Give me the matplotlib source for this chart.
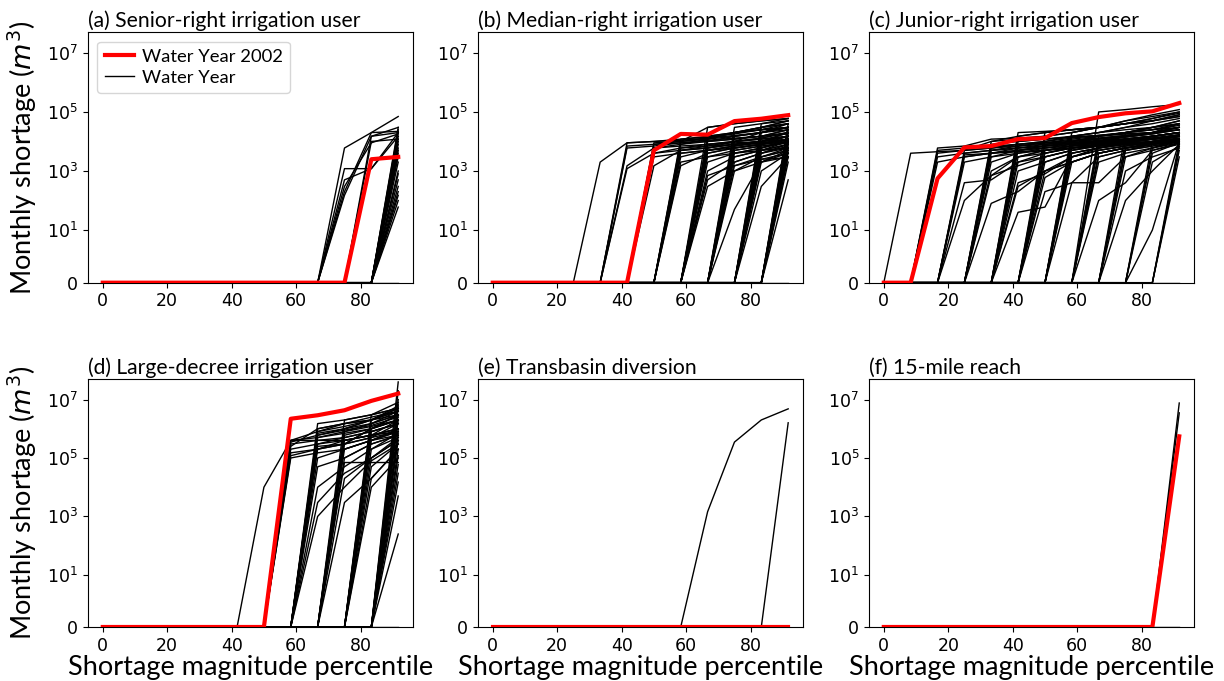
import matplotlib
matplotlib.use("Agg")
import matplotlib.pyplot as plt
from matplotlib.ticker import FixedLocator, NullLocator
from matplotlib.lines import Line2D

# x positions: shortage magnitude percentile of the 12 sorted monthly values
percentiles = [0, 8.33, 16.67, 25, 33.33, 41.67, 50, 58.33, 66.67, 75, 83.33, 91.67]

titles = ["(a) Senior-right irrigation user", "(b) Median-right irrigation user",
          "(c) Junior-right irrigation user", "(d) Large-decree irrigation user",
          "(e) Transbasin diversion", "(f) 15-mile reach"]

# Water Year 2002 (highlighted)
red_a = [0, 0, 0, 0, 0, 0, 0, 0, 0, 0, 2.5e3, 3e3]
red_b = [0, 0, 0, 0, 0, 0, 5e3, 1.8e4, 1.7e4, 4.9e4, 5.9e4, 7.8e4]
red_c = [0, 0, 5.6e2, 6.3e3, 7e3, 1.2e4, 1.3e4, 4.2e4, 6.7e4, 9e4, 1.05e5, 2e5]
red_d = [0, 0, 0, 0, 0, 0, 0, 2.2e6, 2.9e6, 4.3e6, 9e6, 1.6e7]
red_e = [0, 0, 0, 0, 0, 0, 0, 0, 0, 0, 0, 0]
red_f = [0, 0, 0, 0, 0, 0, 0, 0, 0, 0, 0, 5.5e5]

# Other water years: only the non-zero tail of each sorted year is listed
# (leading months are zero shortage)
years_a = [
    [6e3, 2e4, 7e4], [1.2e3, 1.2e3, 2e4], [3e2, 9e3, 1.8e4], [1.5e2, 1.5e4, 3e4],
    [5e2, 1.2e3, 1.5e4], [2e2, 2e4, 2.2e4], [1.5e4, 2e4], [1e4, 1.2e4],
    [3e4], [2.5e4], [2e4], [1.5e4], [1.2e4], [1e4], [8e3], [6e3], [5e3], [4e3],
    [3e3], [2e3], [1e3], [8e2], [5e2], [3e2], [2e2], [1.5e2], [1e2], [6e1], [],
]
years_b = [
    [2e3, 9e3, 1e4, 1.2e4, 1.5e4, 2e4, 2.5e4, 3e4],
    [9e3, 1e4, 1.1e4, 1.3e4, 1.6e4, 2e4, 2.5e4],
    [6e3, 7e3, 9e3, 1e4, 1.5e4, 2e4, 4e4],
    [1.2e3, 4e3, 6e3, 8e3, 1e4, 1.2e4, 1.5e4],
    [1.5e3, 6e3, 8e3, 1.2e4, 2e4, 3e4, 5e4],
    [7e3, 8e3, 9e3, 1.1e4, 1.3e4, 1.5e4, 1.8e4],
    [1.5e3, 5e3, 7e3, 1e4, 1.2e4, 1.5e4],
    [9e3, 1e4, 1.2e4, 2e4, 2.5e4, 3e4],
    [6e3, 7e3, 8e3, 9e3, 1e4, 1.2e4],
    [4e3, 5e3, 6e3, 8e3, 1e4, 2e4],
    [8e3, 1e4, 3e4, 4e4, 5e4, 6e4],
    [3e3, 4e3, 5e3, 6e3, 8e3, 1e4],
    [1.5e3, 4e3, 6e3, 8e3, 1e4], [1.2e4, 1.4e4, 1.8e4, 2.5e4, 3e4],
    [8e3, 1e4, 1.2e4, 1.5e4, 2e4], [6e3, 7e3, 8e3, 1e4, 1.5e4],
    [4e3, 5e3, 7e3, 9e3, 1.2e4], [2e3, 3e3, 4e3, 5e3, 6e3],
    [1e4, 1.3e4, 2e4, 3e4, 4e4], [5e3, 6e3, 1e4, 2e4, 3e4],
    [3e3, 5e3, 7e3, 1e4, 1.5e4],
    [3e4, 4e4, 5e4, 6e4], [3e2, 1e3, 3e3, 5e3], [5e2, 2e3, 4e3, 6e3],
    [1e3, 3e3, 5e3, 8e3], [2e3, 4e3, 6e3, 1e4], [4e3, 6e3, 8e3, 1.2e4],
    [6e3, 8e3, 1e4, 1.5e4], [8e3, 1e4, 1.3e4, 2e4], [1e4, 1.2e4, 1.5e4, 2.5e4],
    [1.2e4, 1.5e4, 2e4, 3e4], [1.5e4, 2e4, 2.5e4, 4e4], [5e3, 7e3, 9e3, 1.1e4],
    [3e3, 5e3, 7e3, 9e3], [7e2, 1.5e3, 2.5e3, 4e3],
    [1e3, 2e3, 3e3], [1.5e3, 3e3, 5e3], [2e3, 4e3, 7e3], [3e3, 5e3, 8e3],
    [4e3, 6e3, 1e4], [6e3, 8e3, 1.2e4], [8e3, 1e4, 1.5e4], [1e4, 1.3e4, 2e4],
    [1.5e4, 2e4, 3e4], [2e4, 3e4, 4e4], [3e4, 4e4, 5e4], [5e3, 7e3, 9e3],
    [5e1, 2e3, 4e3],
    [3e2, 3e3], [1e3, 4e3], [2e3, 5e3], [3e3, 6e3], [4e3, 8e3], [5e3, 1e4],
    [6e3, 1.2e4], [8e3, 1.5e4], [1e4, 2e4], [1.5e4, 2.5e4], [2e4, 3e4],
    [3e4, 5e4], [4e4, 6e4], [2.5e3, 2.8e3],
    [5e2], [2e3], [3e3], [4e3], [5e3], [6e3], [8e3], [1e4], [1.2e4], [1.5e4],
    [2e4], [2.5e4], [3e4], [4e4], [],
]
years_c = [
    [4e3, 4.5e3, 5e3, 6e3, 7e3, 8e3, 9e3, 1e4, 1.2e4, 1.5e4, 2e4],
    [6e3, 7e3, 1.2e4, 1.3e4, 1.5e4, 2e4, 3e4, 5e4, 7e4, 1e5],
    [5e3, 6e3, 7e3, 8e3, 9e3, 1e4, 1.2e4, 1.5e4, 2e4, 3e4],
    [3e3, 4e3, 5e3, 6e3, 7e3, 8e3, 9e3, 1e4, 1.2e4, 1.5e4],
    [2e3, 3e3, 4e3, 5e3, 6e3, 7e3, 8e3, 9e3, 1e4, 1.2e4],
    [4e3, 5e3, 6e3, 8e3, 1e4, 1.5e4, 2e4, 3e4, 5e4, 8e4],
    [4e3, 5e3, 6e3, 7e3, 9e3, 1e4, 1.2e4, 1.5e4, 2e4],
    [4e2, 5e2, 2e3, 3e3, 5e3, 7e3, 9e3, 1.2e4, 1.5e4],
    [1e2, 7e2, 3e3, 4e3, 6e3, 8e3, 1e4, 1.5e4, 2e4],
    [3e3, 4e3, 5e3, 6e3, 8e3, 1e4, 1.5e4, 2e4, 4e4],
    [2e3, 3e3, 4e3, 5e3, 6e3, 7e3, 8e3, 1e4, 1.2e4],
    [5e3, 1e4, 1.5e4, 2e4, 2.5e4, 3e4, 4e4, 6e4, 1e5],
    [3.5e3, 4e3, 4.5e3, 5e3, 6e3, 7e3, 8e3, 9e3, 1e4],
    [8e1, 2e2, 1e3, 2e3, 4e3, 6e3, 8e3, 1e4],
    [1e4, 1.2e4, 1.5e4, 2e4, 3e4, 4e4, 5e4, 7e4],
    [1e3, 3e3, 5e3, 7e3, 9e3, 1.1e4, 1.3e4, 1.5e4],
    [2e3, 4e3, 6e3, 8e3, 1e4, 1.2e4, 1.5e4, 2e4],
    [3e3, 5e3, 7e3, 9e3, 1.2e4, 1.5e4, 2e4, 2.5e4],
    [4e3, 6e3, 8e3, 1e4, 1.5e4, 2e4, 3e4, 5e4],
    [5e3, 7e3, 9e3, 1.2e4, 1.5e4, 1.8e4, 2e4, 3e4],
    [6e3, 8e3, 1e4, 1.3e4, 1.6e4, 2e4, 3e4, 4e4],
    [7e2, 1.5e3, 3e3, 5e3, 8e3, 1e4, 1.2e4, 1.5e4],
    [8e3, 1e4, 1.2e4, 1.4e4, 1.6e4, 1.8e4, 2e4, 2.5e4],
    [4e1, 6e1, 3e3, 6e3, 9e3, 1.2e4, 1.5e4],
    [4e2, 8e2, 3e3, 5e3, 7e3, 1e4, 1.5e4],
    [1.5e4, 2e4, 2.5e4, 3e4, 4e4, 6e4, 9e4],
    [1e3, 2e3, 4e3, 6e3, 8e3, 1e4, 1.2e4],
    [2e3, 4e3, 6e3, 8e3, 1e4, 1.3e4, 1.6e4],
    [3e3, 5e3, 7e3, 1e4, 1.2e4, 1.5e4, 2e4],
    [5e3, 7e3, 9e3, 1.1e4, 1.4e4, 1.8e4, 2.5e4],
    [7e3, 9e3, 1.1e4, 1.3e4, 1.6e4, 2e4, 3e4],
    [1e4, 1.2e4, 1.4e4, 1.6e4, 2e4, 2.5e4, 3.5e4],
    [3e2, 1e3, 2e3, 4e3, 6e3, 9e3, 1.2e4],
    [2e4, 2.2e4, 2.5e4, 3e4, 4e4, 5e4, 8e4],
    [2e2, 4e2, 3e3, 5e3, 8e3, 1.2e4], [1e3, 3e3, 5e3, 7e3, 9e3, 1.1e4],
    [3e3, 5e3, 7e3, 9e3, 1.2e4, 1.5e4], [5e3, 7e3, 9e3, 1.2e4, 1.5e4, 2e4],
    [8e3, 1e4, 1.3e4, 1.6e4, 2e4, 3e4], [1.2e4, 1.5e4, 2e4, 2.5e4, 3e4, 4e4],
    [2e4, 2.5e4, 3e4, 4e4, 5e4, 7e4], [2e3, 4e3, 6e3, 8e3, 1e4, 1.3e4],
    [6e2, 2e3, 4e3, 6e3, 8e3, 1e4], [4e3, 6e3, 8e3, 1e4, 1.3e4, 1.7e4],
    [4e2, 4e2, 3e3, 6e3, 1e4], [2e3, 4e3, 6e3, 8e3, 1.1e4],
    [4e3, 6e3, 8e3, 1e4, 1.3e4], [6e3, 8e3, 1e4, 1.3e4, 1.7e4],
    [1e4, 1.5e4, 2e4, 2.5e4, 3e4], [1.5e4, 2e4, 3e4, 4e4, 6e4],
    [2e4, 3e4, 5e4, 8e4, 1.2e5], [3e3, 5e3, 7e3, 9e3, 1.2e4],
    [8e3, 1e4, 1.2e4, 1.5e4, 2e4],
    [1e2, 4e2, 5e3, 8e3], [2e3, 4e3, 6e3, 9e3], [4e3, 6e3, 8e3, 1.1e4],
    [7e3, 9e3, 1.2e4, 1.5e4], [1e4, 1.4e4, 1.8e4, 2.5e4], [1.5e4, 2e4, 2.5e4, 4e4],
    [1e5, 1.2e5, 1.5e5, 1.8e5], [3e3, 5e3, 7e3, 1e4],
    [1e2, 1e3, 8e3], [1e3, 3e3, 6e3], [3e3, 5e3, 9e3], [6e3, 8e3, 1.2e4],
    [1e4, 1.5e4, 2e4], [2e4, 3e4, 5e4], [5e3, 7e3, 1e4],
    [1e1, 1e4], [2e3, 7e3], [4e3, 9e3], [6e3, 1.2e4], [1e4, 1.5e4],
    [3e3], [5e3], [7e3], [1e4], [],
]
years_d = [
    [1e4, 4e5, 8e5, 1.5e6, 2.5e6, 4e6],
    [4e5, 5e5, 7e5, 1e6, 2e6], [3e5, 4e5, 5e5, 8e5, 1.5e6],
    [2e5, 3e5, 4e5, 6e5, 1e6], [1.5e5, 2e5, 3e5, 5e5, 8e5],
    [1e5, 1.5e5, 2e5, 4e5, 6e5], [2.5e5, 1e6, 1.5e6, 2e6, 3e6],
    [3.5e5, 6e5, 1e6, 2e6, 5e6], [4e5, 4e5, 4e5, 6e5, 8e5],
    [1.2e5, 2e5, 3e5, 1e6, 3e6],
    [1.5e6, 2e6, 3e6, 5e6], [1e6, 1.5e6, 2e6, 4e6], [7e5, 1e6, 1.5e6, 3e6],
    [5e5, 8e5, 1.2e6, 2e6], [3e5, 5e5, 8e5, 1.5e6], [2e5, 4e5, 6e5, 1e6],
    [1e5, 2e5, 4e5, 8e5], [5e4, 1e5, 3e5, 6e5], [1e4, 5e4, 2e5, 5e5],
    [3e3, 3e4, 1e5, 4e5], [1e3, 1e4, 8e4, 3e5], [8e5, 1.2e6, 2e6, 6e6],
    [6e5, 9e5, 1.3e6, 2.5e6], [2.5e5, 3e5, 1e6, 2e6],
    [2e6, 3e6, 5e6], [1e6, 2e6, 4e6], [6e5, 1e6, 2e6], [4e5, 6e5, 1e6],
    [2e5, 4e5, 8e5], [1e5, 3e5, 6e5], [7e4, 7e4, 7e4], [2e4, 1e5, 4e5],
    [3e3, 2e4, 2e5], [8e5, 1.5e6, 3e6], [3e5, 5e5, 1.5e6],
    [3e6, 8e6], [2e6, 5e6], [1e6, 3e6], [6e5, 2e6], [4e5, 1e6], [2e5, 7e5],
    [1e5, 5e5], [5e4, 3e5], [2e4, 2e5], [1e4, 1e5], [1.5e6, 4e6], [8e5, 1.5e6],
    [4e7], [2e7], [1e7], [7e6], [5e6], [3e6], [2e6], [1e6], [6e5], [4e5],
    [2e5], [1.2e5], [6e4], [3e4], [1.5e4], [5e3], [2.5e2], [],
]
years_e = [[1.45e3, 3.5e5, 2e6, 4.8e6], [1.6e6], []]
years_f = [[7.6e6], [3.5e6], []]

panel_years = [years_a, years_b, years_c, years_d, years_e, years_f]
panel_red = [red_a, red_b, red_c, red_d, red_e, red_f]

ytick_vals = [0, 1e1, 1e3, 1e5, 1e7]
xtick_vals = [0, 20, 40, 60, 80]

LABEL_FONT = ["Lato", "DejaVu Sans"]

fig = plt.figure(figsize=(12.24, 6.81), dpi=100)
lefts = [0.0719, 0.3905, 0.7100]
bottoms = [0.5849, 0.0793]
heights = [0.3677, 0.3640]
width = 0.2655

n = len(percentiles)
for i in range(6):
    r, c = divmod(i, 3)
    ax = fig.add_axes([lefts[c], bottoms[r], width, heights[r]])
    for tail in panel_years[i]:
        y = [0.0] * (n - len(tail)) + list(tail)
        ax.plot(percentiles, y, color="black", lw=1.0, zorder=2)
    ax.plot(percentiles, panel_red[i], color="red", lw=3.0, zorder=3)

    ax.set_yscale("symlog", linthresh=1, linscale=0.705)
    ax.set_ylim(0, 5e7)
    ax.set_xlim(-4.583, 96.25)
    ax.yaxis.set_major_locator(FixedLocator(ytick_vals))
    ax.yaxis.set_minor_locator(NullLocator())
    ax.xaxis.set_major_locator(FixedLocator(xtick_vals))
    ax.tick_params(labelsize=12.5)
    ax.set_title(titles[i], loc="left", fontsize=15.2, family=LABEL_FONT, pad=4)
    if c == 0:
        ax.set_ylabel("Monthly shortage ($m^3$)", fontsize=19.5, family=LABEL_FONT,
                      labelpad=6)
    if r == 1:
        ax.set_xlabel("Shortage magnitude percentile", fontsize=19.5,
                      family=LABEL_FONT, labelpad=0)
    if i == 0:
        handles = [Line2D([], [], color="red", lw=3.0),
                   Line2D([], [], color="black", lw=1.0)]
        ax.legend(handles, ["Water Year 2002", "Water Year"], loc="upper left",
                  prop={"family": LABEL_FONT, "size": 13.3},
                  handlelength=1.6, handletextpad=0.4,
                  borderaxespad=0.5, labelspacing=0.25)

fig.savefig("out.png", dpi=100)
